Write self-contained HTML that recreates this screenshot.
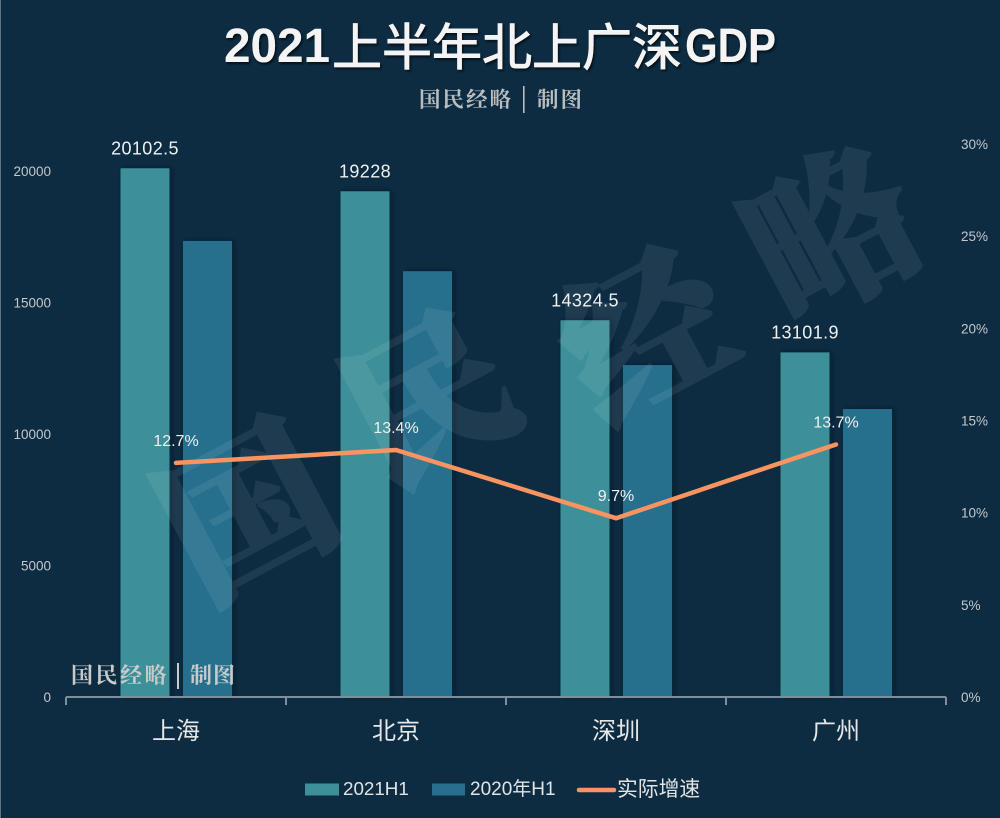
<!DOCTYPE html>
<html lang="zh">
<head>
<meta charset="utf-8">
<title>2021上半年北上广深GDP</title>
<style>
html,body{margin:0;padding:0;background:#0d2c42;}
svg{display:block;}
.sans{font-family:"Liberation Sans","Noto Sans CJK SC",sans-serif;}
.serif{font-family:"Liberation Serif","Noto Serif CJK SC",serif;}
</style>
</head>
<body>
<svg id="chart" class="sans" width="1000" height="818" viewBox="0 0 1000 818" xmlns="http://www.w3.org/2000/svg">
  <defs>
    <filter id="barShadow" x="-30%" y="-5%" width="170%" height="110%">
      <feDropShadow dx="2" dy="0" stdDeviation="3" flood-color="#04131f" flood-opacity="0.55"/>
    </filter>
    <filter id="titleShadow" x="-5%" y="-20%" width="110%" height="150%">
      <feDropShadow dx="1.5" dy="2" stdDeviation="1.2" flood-color="#000" flood-opacity="0.65"/>
    </filter>
  </defs>
  <rect width="1000" height="818" fill="#0d2c42"/>
  <rect x="0" y="0" width="1" height="818" fill="#5d7280"/>

  <g fill="#f4f4f4" filter="url(#titleShadow)">
    <text x="224" y="62" font-size="48" font-weight="700" textLength="106" lengthAdjust="spacingAndGlyphs">2021</text>
    <text x="332" y="65" font-size="50" stroke="#f4f4f4" stroke-width="0.9">上半年北上广深</text>
    <text x="685" y="62" font-size="48" font-weight="700" textLength="91" lengthAdjust="spacingAndGlyphs">GDP</text>
  </g>
  <g class="serif" fill="#b9bdbe" font-weight="700" font-size="21.5">
    <text x="419" y="107" letter-spacing="2">国民经略</text>
    <rect x="523" y="86" width="1.6" height="27" fill="#b9bdbe"/>
    <text x="537" y="107" letter-spacing="2">制图</text>
  </g>

  <g id="yLeft"></g>
  <g id="yRight"></g>
  <g id="bars"></g>

  <g class="serif" font-size="165" font-weight="900" fill="#ffffff" stroke="#ffffff" stroke-width="3" opacity="0.075" text-anchor="middle">
    <text transform="translate(275,564) rotate(-28)">国</text>
    <text transform="translate(457,451) rotate(-28)">民</text>
    <text transform="translate(673,387) rotate(-28)">经</text>
    <text transform="translate(860,287) rotate(-28)">略</text>
  </g>

  <g id="xAxis"></g>
  <g id="line"></g>

  <g class="serif" fill="#c9cbcb" font-weight="700" font-size="22">
    <text x="71" y="683" letter-spacing="2.5">国民经略</text>
    <rect x="177" y="663" width="2" height="26" fill="#c9cbcb"/>
    <text x="190" y="683" letter-spacing="1">制图</text>
  </g>

  <g>
    <rect x="305" y="783.5" width="34" height="12" fill="#3d9099"/>
    <text x="343" y="795" font-size="18.8" fill="#e2e4e4">2021H1</text>
    <rect x="432" y="783.5" width="33" height="12" fill="#286f8e"/>
    <text x="470" y="795" font-size="19" fill="#e2e4e4">2020年H1</text>
    <line x1="579" y1="790" x2="614" y2="790" stroke="#f9935f" stroke-width="4.5" stroke-linecap="round"/>
    <text x="617" y="796" font-size="20.8" fill="#e2e4e4">实际增速</text>
  </g>
</svg>
<script>
var categories = ['上海', '北京', '深圳', '广州'];
var gdp2021 = [20102.5, 19228, 14324.5, 13101.9];
var gdp2020 = [17340, 16190, 12620, 10950];
var growth = [12.7, 13.4, 9.7, 13.7];
var gdp2021Labels = ['20102.5', '19228', '14324.5', '13101.9'];
var growthLabels = ['12.7%', '13.4%', '9.7%', '13.7%'];
var leftTicks = [0, 5000, 10000, 15000, 20000];
var rightTicks = [0, 5, 10, 15, 20, 25, 30];

var NS = 'http://www.w3.org/2000/svg';
var plotLeft = 66, plotRight = 946, baseY = 697;
var band = (plotRight - plotLeft) / categories.length;
function yLeft(v) { return baseY - v * (526 / 20000); }
function yRight(v) { return baseY - v * (553 / 30); }
function xBand(i) { return plotLeft + band * i; }
function xCenter(i) { return xBand(i) + band / 2; }
function mk(tag, attrs, parent, txt) {
  var el = document.createElementNS(NS, tag);
  for (var k in attrs) el.setAttribute(k, attrs[k]);
  if (txt !== undefined) el.textContent = txt;
  parent.appendChild(el);
  return el;
}
var gLeft = document.getElementById('yLeft');
var gRight = document.getElementById('yRight');
var gBars = document.getElementById('bars');
var gX = document.getElementById('xAxis');
var gLine = document.getElementById('line');

leftTicks.forEach(function (t) {
  var el = mk('text', {x: 51, y: yLeft(t) + 5, 'text-anchor': 'end', 'font-size': 13.5, fill: '#c3c8cb'}, gLeft, String(t));
  
  
});
rightTicks.forEach(function (t) {
  var el = mk('text', {x: 961, y: yRight(t) + 5, 'font-size': 13.5, fill: '#c3c8cb'}, gRight, t + '%');
  
  
});

var barW = 49, barOffsetA = -55.5, barOffsetB = 7;
categories.forEach(function (c, i) {
  var cx = xCenter(i);
  var a = mk('rect', {x: cx + barOffsetA, y: yLeft(gdp2021[i]), width: barW, height: baseY - yLeft(gdp2021[i]), fill: '#3d9099', filter: 'url(#barShadow)'}, gBars);
  
  
  var b = mk('rect', {x: cx + barOffsetB, y: yLeft(gdp2020[i]), width: barW, height: baseY - yLeft(gdp2020[i]), fill: '#286f8e', filter: 'url(#barShadow)'}, gBars);
  
  
  var l = mk('text', {x: cx + barOffsetA + barW / 2, y: yLeft(gdp2021[i]) - 14, 'text-anchor': 'middle', 'font-size': 18, 'letter-spacing': 0.4, fill: '#eef0f0'}, gBars, gdp2021Labels[i]);
  
  
});

var axisPath = mk('path', {d: 'M' + plotLeft + ' ' + baseY + 'H' + plotRight, stroke: '#7d8f9a', 'stroke-width': 2, fill: 'none'}, gX);


for (var t = 0; t <= categories.length; t++) {
  var tk = mk('line', {x1: xBand(t), x2: xBand(t), y1: baseY, y2: baseY + 8, stroke: '#7d8f9a', 'stroke-width': 2}, gX);
  
  
}
categories.forEach(function (c, i) {
  var el = mk('text', {x: xCenter(i), y: 739, 'text-anchor': 'middle', 'font-size': 24, fill: '#e6e8e8'}, gX, c);
  
  
});

var pts = growth.map(function (v, i) { return xCenter(i) + ' ' + yRight(v); });
var poly = mk('path', {d: 'M' + pts.join('L'), stroke: '#f9935f', 'stroke-width': 4.5, fill: 'none', 'stroke-linecap': 'round', 'stroke-linejoin': 'round'}, gLine);


growth.forEach(function (v, i) {
  var el = mk('text', {x: xCenter(i), y: yRight(v) - 17, 'text-anchor': 'middle', 'font-size': 16, fill: '#eef0f0'}, gLine, growthLabels[i]);
  
  
});
</script>
</body>
</html>
